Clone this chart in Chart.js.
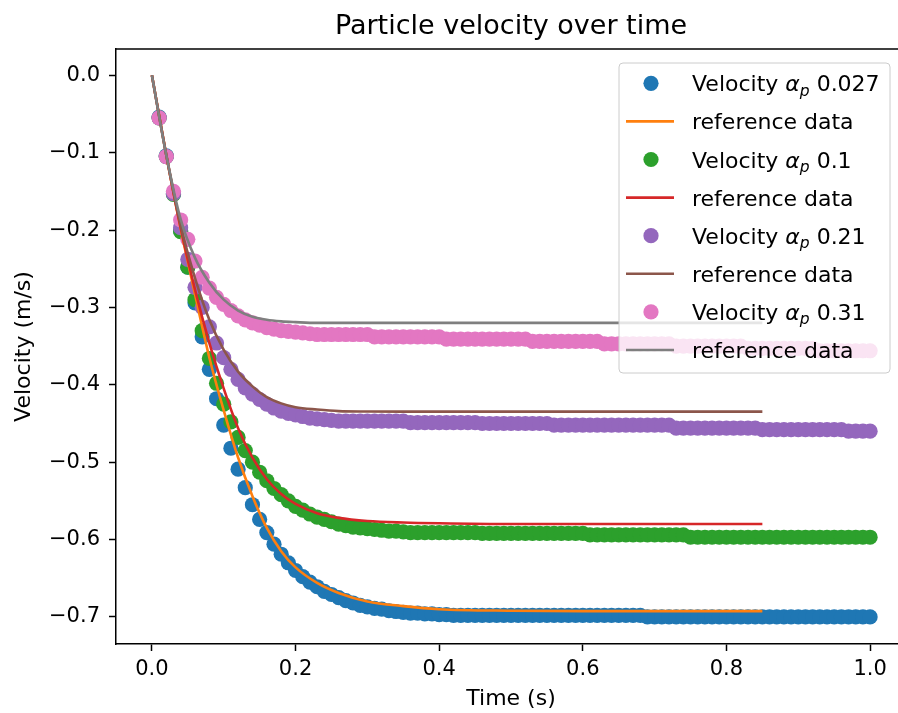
<!DOCTYPE html>
<html>
<head>
<meta charset="utf-8">
<title>Particle velocity over time</title>
<script src="https://cdn.jsdelivr.net/npm/chart.js@4.4.1/dist/chart.umd.min.js"></script>
<style>
  html, body { margin: 0; padding: 0; background: #fff; overflow: hidden; }
  #wrap { width: 940px; height: 713px; }
</style>
</head>
<body>
<div id="wrap"><canvas id="velocityPlot" width="940" height="713"></canvas></div>
<script>
// simulation output times (s)
const simTime = [
  0.01, 0.02, 0.03, 0.04, 0.05, 0.06, 0.07, 0.08, 0.09, 0.10,
  0.11, 0.12, 0.13, 0.14, 0.15, 0.16, 0.17, 0.18, 0.19, 0.20,
  0.21, 0.22, 0.23, 0.24, 0.25, 0.26, 0.27, 0.28, 0.29, 0.30,
  0.31, 0.32, 0.33, 0.34, 0.35, 0.36, 0.37, 0.38, 0.39, 0.40,
  0.41, 0.42, 0.43, 0.44, 0.45, 0.46, 0.47, 0.48, 0.49, 0.50,
  0.51, 0.52, 0.53, 0.54, 0.55, 0.56, 0.57, 0.58, 0.59, 0.60,
  0.61, 0.62, 0.63, 0.64, 0.65, 0.66, 0.67, 0.68, 0.69, 0.70,
  0.71, 0.72, 0.73, 0.74, 0.75, 0.76, 0.77, 0.78, 0.79, 0.80,
  0.81, 0.82, 0.83, 0.84, 0.85, 0.86, 0.87, 0.88, 0.89, 0.90,
  0.91, 0.92, 0.93, 0.94, 0.95, 0.96, 0.97, 0.98, 0.99, 1.00
];

const alphaLabels = ['0.027', '0.1', '0.21', '0.31'];

// simulated particle velocity (m/s), one array per particle volume fraction
const velAlpha0027 = [
  -0.054, -0.104, -0.153, -0.201, -0.248, -0.294, -0.338, -0.380, -0.418, -0.452,
  -0.482, -0.509, -0.533, -0.555, -0.574, -0.591, -0.606, -0.619, -0.630, -0.640,
  -0.648, -0.655, -0.661, -0.667, -0.671, -0.675, -0.679, -0.682, -0.685, -0.687,
  -0.689, -0.690, -0.692, -0.693, -0.694, -0.695, -0.695, -0.696, -0.696, -0.697,
  -0.697, -0.698, -0.698, -0.698, -0.698, -0.698, -0.698, -0.698, -0.698, -0.698,
  -0.698, -0.698, -0.698, -0.698, -0.698, -0.698, -0.698, -0.698, -0.698, -0.698,
  -0.698, -0.698, -0.698, -0.698, -0.698, -0.698, -0.698, -0.698, -0.700, -0.700,
  -0.700, -0.700, -0.700, -0.700, -0.700, -0.700, -0.700, -0.700, -0.700, -0.700,
  -0.700, -0.700, -0.700, -0.700, -0.700, -0.700, -0.700, -0.700, -0.700, -0.700,
  -0.700, -0.700, -0.700, -0.700, -0.700, -0.700, -0.700, -0.700, -0.700, -0.700
];
const velAlpha01 = [
  -0.055, -0.105, -0.154, -0.202, -0.248, -0.290, -0.330, -0.366, -0.398, -0.425,
  -0.448, -0.468, -0.485, -0.500, -0.513, -0.524, -0.534, -0.542, -0.550, -0.557,
  -0.562, -0.567, -0.571, -0.574, -0.577, -0.580, -0.582, -0.584, -0.585, -0.586,
  -0.587, -0.588, -0.589, -0.589, -0.590, -0.591, -0.591, -0.591, -0.591, -0.591,
  -0.591, -0.591, -0.591, -0.591, -0.591, -0.592, -0.592, -0.592, -0.592, -0.592,
  -0.592, -0.592, -0.592, -0.592, -0.592, -0.592, -0.592, -0.592, -0.592, -0.592,
  -0.594, -0.594, -0.594, -0.594, -0.594, -0.594, -0.594, -0.594, -0.594, -0.594,
  -0.594, -0.594, -0.594, -0.594, -0.597, -0.597, -0.597, -0.597, -0.597, -0.597,
  -0.597, -0.597, -0.597, -0.597, -0.597, -0.597, -0.597, -0.597, -0.597, -0.597,
  -0.597, -0.597, -0.597, -0.597, -0.597, -0.597, -0.597, -0.597, -0.597, -0.597
];
const velAlpha021 = [
  -0.055, -0.105, -0.153, -0.197, -0.238, -0.274, -0.300, -0.325, -0.346, -0.365,
  -0.380, -0.393, -0.404, -0.412, -0.419, -0.425, -0.430, -0.434, -0.437, -0.439,
  -0.441, -0.443, -0.444, -0.445, -0.446, -0.447, -0.447, -0.447, -0.447, -0.447,
  -0.447, -0.447, -0.447, -0.447, -0.447, -0.449, -0.449, -0.449, -0.449, -0.449,
  -0.449, -0.449, -0.449, -0.449, -0.449, -0.450, -0.450, -0.450, -0.450, -0.450,
  -0.450, -0.450, -0.450, -0.450, -0.450, -0.452, -0.452, -0.452, -0.452, -0.452,
  -0.452, -0.452, -0.452, -0.452, -0.452, -0.452, -0.452, -0.452, -0.452, -0.452,
  -0.452, -0.452, -0.456, -0.456, -0.456, -0.456, -0.456, -0.456, -0.456, -0.456,
  -0.456, -0.456, -0.456, -0.456, -0.458, -0.458, -0.458, -0.458, -0.458, -0.458,
  -0.458, -0.458, -0.458, -0.458, -0.458, -0.458, -0.460, -0.460, -0.460, -0.460
];
const velAlpha031 = [
  -0.055, -0.105, -0.150, -0.187, -0.212, -0.240, -0.261, -0.275, -0.287, -0.296,
  -0.304, -0.311, -0.316, -0.320, -0.323, -0.326, -0.328, -0.330, -0.331, -0.332,
  -0.333, -0.334, -0.335, -0.335, -0.335, -0.335, -0.335, -0.335, -0.335, -0.335,
  -0.338, -0.338, -0.338, -0.338, -0.338, -0.338, -0.338, -0.338, -0.338, -0.338,
  -0.341, -0.341, -0.341, -0.341, -0.341, -0.341, -0.341, -0.341, -0.341, -0.341,
  -0.341, -0.341, -0.344, -0.344, -0.344, -0.344, -0.344, -0.344, -0.344, -0.344,
  -0.344, -0.344, -0.347, -0.347, -0.347, -0.347, -0.347, -0.347, -0.347, -0.347,
  -0.347, -0.347, -0.350, -0.350, -0.350, -0.350, -0.350, -0.350, -0.350, -0.350,
  -0.350, -0.350, -0.353, -0.353, -0.353, -0.353, -0.353, -0.353, -0.353, -0.353,
  -0.353, -0.353, -0.356, -0.356, -0.356, -0.356, -0.356, -0.356, -0.356, -0.356
];

// reference solutions (m/s)
const refTime = [0, 0.02, 0.04, 0.06, 0.08, 0.10, 0.12, 0.14, 0.16, 0.18, 0.20, 0.23, 0.26, 0.30, 0.35, 0.40, 0.50, 0.60, 0.70, 0.85];
const refAlpha0027 = [0, -0.103, -0.198, -0.283, -0.365, -0.433, -0.494, -0.544, -0.585, -0.615, -0.636, -0.656, -0.669, -0.680, -0.686, -0.690, -0.692, -0.6925, -0.6925, -0.6925];
const refAlpha01 = [0, -0.103, -0.197, -0.277, -0.346, -0.405, -0.456, -0.494, -0.522, -0.541, -0.554, -0.566, -0.572, -0.576, -0.578, -0.579, -0.580, -0.580, -0.580, -0.580];
const refAlpha021 = [0, -0.103, -0.194, -0.262, -0.316, -0.355, -0.383, -0.402, -0.416, -0.424, -0.429, -0.432, -0.434, -0.4345, -0.4347, -0.4347, -0.4347, -0.4347, -0.4347, -0.4347];
const refAlpha031 = [0, -0.103, -0.186, -0.236, -0.268, -0.290, -0.304, -0.312, -0.316, -0.318, -0.319, -0.320, -0.320, -0.320, -0.320, -0.320, -0.320, -0.320, -0.320, -0.320];

const simSeries = [velAlpha0027, velAlpha01, velAlpha021, velAlpha031];
const refSeries = [refAlpha0027, refAlpha01, refAlpha021, refAlpha031];
const dotColors = ['#1f77b4', '#2ca02c', '#9467bd', '#e377c2'];
const lineColors = ['#ff7f0e', '#d62728', '#8c564b', '#7f7f7f'];

const FONT = "'DejaVu Sans', sans-serif";
Chart.defaults.font.family = FONT;
Chart.defaults.color = '#000';

// scatter first, lines on top (lower order = drawn later)
const datasets = [];
for (let i = 0; i < 4; i++) {
  datasets.push({
    label: 'Velocity \u03b1p ' + alphaLabels[i],
    data: simTime.map((t, k) => ({ x: t, y: simSeries[i][k] })),
    backgroundColor: dotColors[i],
    borderColor: dotColors[i],
    pointRadius: 7.6,
    pointHoverRadius: 7.6,
    pointBorderWidth: 0,
    showLine: false,
    order: 7 - i
  });
  datasets.push({
    label: 'reference data',
    data: refTime.map((t, k) => ({ x: t, y: refSeries[i][k] })),
    borderColor: lineColors[i],
    backgroundColor: lineColors[i],
    borderWidth: 2.6,
    pointRadius: 0,
    showLine: true,
    fill: false,
    cubicInterpolationMode: 'monotone',
    order: 3 - i
  });
}

function signedLabel(v) {
  const s = Math.abs(v).toFixed(1);
  return v < -1e-9 ? '\u2212' + s : s;
}

// top spine (the left and bottom ones come from the axis borders)
const frame = {
  id: 'frame',
  afterDatasetsDraw(chart) {
    const { ctx, chartArea: a } = chart;
    ctx.save();
    ctx.strokeStyle = '#000';
    ctx.lineWidth = 1.5;
    ctx.beginPath();
    ctx.moveTo(a.left, a.top);
    ctx.lineTo(a.right, a.top);
    ctx.stroke();
    ctx.restore();
  }
};

// matplotlib-like legend box in the upper right corner
const velocityLegend = {
  id: 'velocityLegend',
  afterDraw(chart) {
    const { ctx, chartArea: a } = chart;
    const right = a.right - 16;
    const top = a.top + 14;
    const width = 271;
    const rowH = 38.1;
    const height = 310;
    const left = right - width;

    ctx.save();
    ctx.beginPath();
    ctx.roundRect(left, top, width, height, 4);
    ctx.fillStyle = 'rgba(255,255,255,0.8)';
    ctx.fill();
    ctx.strokeStyle = '#cccccc';
    ctx.lineWidth = 1;
    ctx.stroke();

    for (let i = 0; i < 4; i++) {
      // scatter entry
      let cy = top + 20.3 + (2 * i) * rowH;
      ctx.beginPath();
      ctx.arc(left + 32, cy, 7.6, 0, Math.PI * 2);
      ctx.fillStyle = dotColors[i];
      ctx.fill();

      ctx.fillStyle = '#000';
      ctx.textBaseline = 'alphabetic';
      let x = left + 73;
      const base = cy + 8;
      ctx.font = '22px ' + FONT;
      ctx.fillText('Velocity ', x, base);
      x += ctx.measureText('Velocity ').width;
      ctx.font = 'italic 22px ' + FONT;
      ctx.fillText('\u03b1', x, base);
      x += ctx.measureText('\u03b1').width;
      ctx.font = 'italic 15.5px ' + FONT;
      ctx.fillText('p', x, base + 4.5);
      x += ctx.measureText('p').width;
      ctx.font = '22px ' + FONT;
      ctx.fillText(' ' + alphaLabels[i], x, base);

      // reference line entry
      cy += rowH;
      ctx.beginPath();
      ctx.moveTo(left + 7, cy);
      ctx.lineTo(left + 55, cy);
      ctx.strokeStyle = lineColors[i];
      ctx.lineWidth = 2.6;
      ctx.stroke();
      ctx.fillStyle = '#000';
      ctx.font = '22px ' + FONT;
      ctx.fillText('reference data', left + 73, cy + 8);
    }
    ctx.restore();
  }
};

new Chart(document.getElementById('velocityPlot'), {
  type: 'scatter',
  data: { datasets },
  options: {
    responsive: false,
    animation: false,
    events: [],
    // the axes run on past the right edge of the window
    layout: { padding: { left: 0, right: 34, top: 0, bottom: 0 } },
    plugins: {
      legend: { display: false },
      tooltip: { enabled: false },
      title: {
        display: true,
        text: 'Particle velocity over time',
        fullSize: false,
        color: '#000',
        font: { size: 27, weight: 'normal', lineHeight: 1.2 },
        padding: { top: 11, bottom: 5.6 }
      }
    },
    scales: {
      x: {
        type: 'linear',
        min: -0.05,
        max: 1.05,
        afterFit(axis) { axis.height = 69; },
        border: { display: true, color: '#000', width: 1.5 },
        grid: { drawOnChartArea: false, drawTicks: true, tickLength: 7, tickWidth: 1.5, tickColor: '#000' },
        ticks: {
          stepSize: 0.2,
          includeBounds: false,
          autoSkip: false,
          maxRotation: 0,
          padding: 6,
          color: '#000',
          font: { size: 21 },
          callback: (v) => signedLabel(v)
        },
        title: {
          display: true,
          text: 'Time (s)',
          color: '#000',
          font: { size: 22 },
          padding: { top: 0, bottom: 1 }
        }
      },
      y: {
        type: 'linear',
        min: -0.735,
        max: 0.034,
        afterFit(axis) { axis.width = 116; },
        border: { display: true, color: '#000', width: 1.5 },
        grid: { drawOnChartArea: false, drawTicks: true, tickLength: 7, tickWidth: 1.5, tickColor: '#000' },
        ticks: {
          stepSize: 0.1,
          includeBounds: false,
          autoSkip: false,
          padding: 9,
          color: '#000',
          font: { size: 21 },
          callback: (v) => signedLabel(v)
        },
        title: {
          display: true,
          text: 'Velocity (m/s)',
          color: '#000',
          font: { size: 22 },
          padding: { top: 11, bottom: 0 }
        }
      }
    }
  },
  plugins: [frame, velocityLegend]
});
</script>
</body>
</html>
